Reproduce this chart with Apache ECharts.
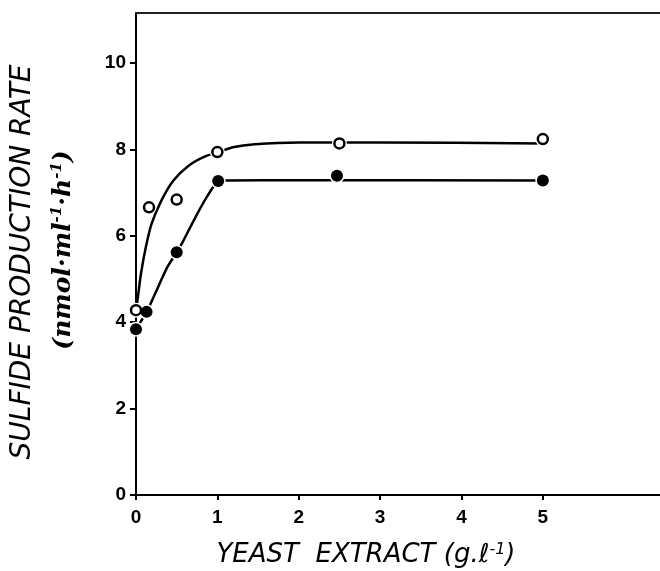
<!DOCTYPE html>
<html>
<head>
<meta charset="utf-8">
<script src="https://cdn.jsdelivr.net/npm/echarts@6/dist/echarts.min.js"></script>
<style>
  html, body { margin: 0; padding: 0; background: #fff; }
  #chart { width: 660px; height: 571px; }
</style>
</head>
<body>
<div id="chart"></div>
<script>
// measured points (open and filled circles)
var yeastOpen = [0, 0.16, 0.5, 1.0, 2.5, 5.0];
var rateOpen = [4.28, 6.66, 6.84, 7.94, 8.14, 8.24];
var yeastFilled = [0, 0.13, 0.5, 1.01, 2.47, 5.0];
var rateFilled = [3.84, 4.24, 5.62, 7.27, 7.39, 7.28];

// hand drawn curves
var curveOpenX = [0, 0.02, 0.06, 0.12, 0.19, 0.31, 0.46, 0.65, 0.85, 1.0, 1.19, 1.46, 2.0, 3.0, 5.0];
var curveOpenY = [4.28, 4.53, 5.11, 5.73, 6.27, 6.81, 7.28, 7.63, 7.84, 7.93, 8.05, 8.12, 8.16, 8.16, 8.14];
var curveFilledX = [0, 0.13, 0.23, 0.38, 0.5, 0.58, 0.73, 0.88, 1.01, 1.12, 2.0, 5.0];
var curveFilledY = [3.84, 4.24, 4.64, 5.26, 5.62, 5.88, 6.43, 6.93, 7.26, 7.28, 7.29, 7.28];

var xTicks = [0, 1, 2, 3, 4, 5];
var yTicks = [0, 2, 4, 6, 8, 10];

function pairs(xs, ys) {
    var out = [];
    for (var i = 0; i < xs.length; i++) out.push([xs[i], ys[i]]);
    return out;
}

var myChart = echarts.init(document.getElementById('chart'));
var tickFont = { color: '#000', fontFamily: 'Liberation Sans', fontWeight: 'bold', fontSize: 19 };

myChart.setOption({
    animation: false,
    backgroundColor: '#fff',
    grid: { left: 136, top: 13, right: 0, bottom: 76 },
    xAxis: [{
        type: 'value', min: 0, max: 6.44, interval: 1,
        axisLine: { lineStyle: { color: '#000', width: 2 } },
        axisTick: { show: true, length: 5, lineStyle: { color: '#000', width: 2 },
            customValues: xTicks },
        axisLabel: Object.assign({ margin: 13, customValues: xTicks }, tickFont),
        splitLine: { show: false }
    }, {
        type: 'value', min: 0, max: 6.44, position: 'top',
        axisLine: { show: true, onZero: false, lineStyle: { color: '#222', width: 2 } },
        axisTick: { show: false }, axisLabel: { show: false }, splitLine: { show: false }
    }],
    yAxis: {
        type: 'value', min: 0, max: 11.16, interval: 2,
        axisLine: { show: true, lineStyle: { color: '#000', width: 2 } },
        axisTick: { show: true, length: 6, lineStyle: { color: '#000', width: 2 },
            customValues: yTicks },
        axisLabel: Object.assign({ margin: 10, customValues: yTicks }, tickFont),
        splitLine: { show: false }
    },
    series: [
        {
            type: 'line', smooth: 0.25, showSymbol: false, z: 2,
            lineStyle: { color: '#000', width: 2.5 },
            data: pairs(curveOpenX, curveOpenY)
        },
        {
            type: 'line', smooth: 0.25, showSymbol: false, z: 2,
            lineStyle: { color: '#000', width: 2.5 },
            data: pairs(curveFilledX, curveFilledY)
        },
        {   // white halos leave the little gaps round each point
            type: 'scatter', symbol: 'circle', symbolSize: 15, z: 3, silent: true,
            itemStyle: { color: '#fff', opacity: 1 },
            data: pairs(yeastOpen, rateOpen).concat(pairs(yeastFilled, rateFilled))
        },
        {
            type: 'scatter', symbol: 'circle', symbolSize: 10, z: 4,
            itemStyle: { color: '#fff', borderColor: '#000', borderWidth: 2.5, opacity: 1 },
            data: pairs(yeastOpen, rateOpen)
        },
        {
            type: 'scatter', symbol: 'circle', symbolSize: 12, z: 4,
            itemStyle: { color: '#000', opacity: 1 },
            data: pairs(yeastFilled, rateFilled)
        }
    ],
    graphic: [
        {
            type: 'text', x: 23, y: 262, rotation: Math.PI / 2,
            style: { text: 'SULFIDE PRODUCTION RATE', font: 'italic 28px "DejaVu Sans"', fill: '#000',
                align: 'center', verticalAlign: 'middle' }
        },
        {
            type: 'text', x: 63, y: 250, rotation: Math.PI / 2,
            style: {
                text: '(nmol·ml{s|-1}·h{s|-1})', fill: '#000',
                font: 'italic bold 25px "DejaVu Serif"',
                align: 'center', verticalAlign: 'middle',
                rich: { s: { font: 'italic bold 15px "DejaVu Serif"', padding: [0, 0, 12, 0] } }
            }
        },
        {
            type: 'text', x: 366, y: 555,
            style: {
                text: 'YEAST  EXTRACT (g.ℓ{s|-1})', font: 'italic 26px "DejaVu Sans"', fill: '#000',
                align: 'center', verticalAlign: 'middle',
                rich: { s: { font: 'italic 16px "DejaVu Sans"', padding: [0, 0, 11, 0] } }
            }
        }
    ]
});
</script>
</body>
</html>
